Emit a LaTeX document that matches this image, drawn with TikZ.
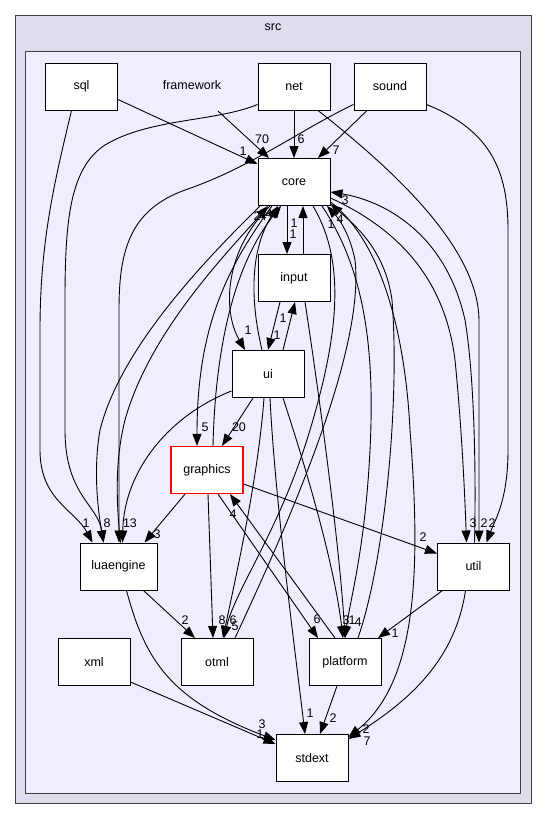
\documentclass[tikz,border=0pt]{standalone}
\usepackage{fontspec}
\setmainfont{Liberation Sans}
\usepackage{xcolor}
\usetikzlibrary{arrows.meta}
\definecolor{outerfill}{HTML}{DDDDEE}
\definecolor{innerfill}{HTML}{EEEEFF}
\definecolor{framecol}{HTML}{404040}
\tikzset{
  dirbox/.style={draw=black, fill=white, line width=1pt, rectangle, minimum width=72pt, minimum height=47pt, inner sep=0pt, font=\fontsize{12.5}{15}\selectfont},
  dep/.style={draw=black, line width=0.9pt, -{Triangle[length=12pt,width=9pt]}},
  deplabel/.style={inner sep=0pt, font=\fontsize{12.5}{15}\selectfont}
}

\begin{document}
\begin{tikzpicture}[x=1pt,y=-1pt]
\useasboundingbox (0,0) rectangle (547,820);
\fill[white] (0,0) rectangle (547,820);
% clusters
\draw[framecol, fill=outerfill, line width=1pt] (15,15) rectangle (531,803);
\draw[framecol, fill=innerfill, line width=1pt] (25,51) rectangle (520,793);
\node[deplabel] (src) at (273,27) {src};
\node[deplabel] (framework) at (192,85) {framework};
\coordinate (fw) at (218,111);

% directories
\node[dirbox] (sql) at (81.5,86.5) {sql};
\node[dirbox] (net) at (294,86.5) {net};
\node[dirbox] (sound) at (390,86.5) {sound};
\node[dirbox] (core) at (294,182) {core};
\node[dirbox] (input) at (294,278) {input};
\node[dirbox] (ui) at (268,374) {ui};
\node[dirbox, draw=red, line width=1.2pt] (graphics) at (207,470) {graphics};
\node[dirbox, minimum width=77pt] (luaengine) at (118.5,566.5) {luaengine};
\node[dirbox] (util) at (473.5,566.5) {util};
\node[dirbox] (xml) at (94,662) {xml};
\node[dirbox] (otml) at (217,662) {otml};
\node[dirbox] (platform) at (345,662) {platform};
\node[dirbox] (stdext) at (312,758) {stdext};

% into core from above
\draw[dep] ([yshift=-13pt]sql.east) -- ([yshift=18pt]core.west) node[deplabel] at (243,151) {1};
\draw[dep] (fw) -- ([xshift=-25pt]core.north) node[deplabel] at (262,139) {70};
\draw[dep] (net.south) -- (core.north) node[deplabel] at (301,139) {6};
\draw[dep] ([xshift=-23pt]sound.south) -- ([xshift=24pt]core.north) node[deplabel] at (336,150) {7};

% into luaengine
\draw[dep] ([xshift=-10pt]sql.south) .. controls (55,180) and (40,240) .. (40,330) -- (40,450) .. controls (40,500) and (75,510) .. ([xshift=-26pt]luaengine.north) node[deplabel] at (86,523) {1};
\draw[dep] ([yshift=-18pt]net.west) .. controls (215,122) and (150,118) .. (105,145) .. controls (70,168) and (65,220) .. (65,300) -- (65,430) .. controls (65,495) and (98,505) .. ([xshift=-15pt]luaengine.north) node[deplabel] at (107,523) {8};
\draw[dep] ([yshift=-18pt]sound.west) .. controls (300,130) and (250,168) .. (185,190) .. controls (130,210) and (119,250) .. (119,310) -- ([xshift=0.5pt]luaengine.north) node[deplabel] at (130,523) {13};
\draw[dep] ([yshift=-17pt]ui.west) .. controls (170,415) and (124,470) .. ([xshift=4pt]luaengine.north);
\draw[dep] ([xshift=-34pt]core.south) .. controls (200,265) and (120,350) .. (100,430) .. controls (93,470) and (98,510) .. ([xshift=-15pt]luaengine.north);
\draw[dep] ([xshift=-22pt]graphics.south) -- ([xshift=26pt]luaengine.north) node[deplabel] at (157,534) {3};

% into core from below
\draw[dep] ([xshift=2pt]luaengine.north) .. controls (116,500) and (115,460) .. (125,420) .. controls (150,330) and (230,250) .. ([xshift=-26pt]core.south);
\draw[dep] ([xshift=-6pt]ui.north) .. controls (250,300) and (250,250) .. ([xshift=-16pt]core.south);
\draw[dep] ([xshift=6pt]graphics.north) .. controls (215,360) and (230,270) .. ([xshift=-13pt]core.south);
\draw[dep] ([xshift=9pt]input.north) -- ([xshift=9pt]core.south) node[deplabel] at (294,223) {1};
\draw[dep] ([xshift=18pt]otml.north) .. controls (290,520) and (365,350) .. (355,260) .. controls (350,235) and (340,220) .. ([xshift=33pt]core.south) node[deplabel] at (331,224) {1};
\draw[dep] ([xshift=13pt]platform.north) .. controls (385,560) and (400,400) .. (392,300) .. controls (385,250) and (355,225) .. ([yshift=-22pt]core.east) node[deplabel] at (340,219) {4};
\draw[dep] ([xshift=1pt]util.north) .. controls (476,480) and (475,380) .. (465,320) .. controls (445,230) and (380,200) .. ([yshift=-10pt]core.east) node[deplabel] at (345,200) {3};
\node[deplabel] (lbl-a) at (257,216) {2};
\node[deplabel] (lbl-b) at (263,216) {4};
\node[deplabel] (lbl-c) at (269,214) {4};

% out of core downwards
\draw[dep] ([xshift=-7pt]core.south) -- ([xshift=-7pt]input.north) node[deplabel] at (293,234) {1};
\draw[dep] ([xshift=-24pt]core.south) .. controls (225,250) and (222,310) .. ([xshift=-23pt]ui.north) node[deplabel] at (248,330) {1};
\draw[dep] ([xshift=-22pt]core.south) .. controls (225,270) and (197,330) .. ([xshift=-10pt]graphics.north) node[deplabel] at (205,427) {5};
\draw[dep] ([xshift=19pt]core.south) .. controls (345,260) and (340,330) .. (310,430) .. controls (280,530) and (235,590) .. ([xshift=7pt]otml.north) node[deplabel] at (235,626) {5};
\draw[dep] ([xshift=28pt]core.south) .. controls (365,270) and (375,350) .. (370,450) .. controls (365,550) and (350,600) .. (platform.north) node[deplabel] at (358,622) {4};
\draw[dep] ([yshift=-20pt]core.east) .. controls (380,240) and (405,330) .. (410,430) .. controls (420,560) and (420,680) .. ([yshift=21pt]stdext.east) node[deplabel] at (366,729) {2};
\draw[dep] ([yshift=-16pt]core.east) .. controls (400,230) and (445,280) .. (455,360) .. controls (462,430) and (465,500) .. ([xshift=-7pt]util.north) node[deplabel] at (473,523) {3};

% into util from above
\draw[dep] ([xshift=24pt]net.south) .. controls (400,175) and (478,250) .. (479,320) -- ([xshift=5.5pt]util.north) node[deplabel] at (484,523) {2};
\draw[dep] ([yshift=-18pt]sound.east) .. controls (490,130) and (508,170) .. (508,230) -- (508,450) .. controls (508,500) and (495,520) .. ([xshift=13pt]util.north) node[deplabel] at (492,523) {2};

% input and ui
\draw[dep] ([xshift=-14pt]input.south) -- (ui.north) node[deplabel] at (277,335) {1};
\draw[dep] ([xshift=15pt]ui.north) -- ([xshift=1pt]input.south) node[deplabel] at (283,318) {1};
\draw[dep] ([xshift=11pt]input.south) .. controls (320,400) and (340,550) .. (platform.north) node[deplabel] at (352,620) {1};
\draw[dep] ([xshift=-15pt]ui.south) -- ([xshift=15pt]graphics.north) node[deplabel] at (239,427) {20};
\draw[dep] ([xshift=-4pt]ui.south) .. controls (258,480) and (235,580) .. ([xshift=6pt]otml.north) node[deplabel] at (233,620) {6};
\draw[dep] ([xshift=2pt]ui.south) .. controls (275,500) and (295,650) .. ([xshift=-7pt]stdext.north) node[deplabel] at (310,713) {1};
\draw[dep] ([xshift=15pt]ui.south) .. controls (310,480) and (335,570) .. ([xshift=-2pt]platform.north) node[deplabel] at (346,620) {3};

% graphics
\draw[dep] ([xshift=1pt]graphics.south) -- ([xshift=-4pt]otml.north) node[deplabel] at (222,620) {8};
\draw[dep] ([yshift=-14pt]graphics.east) -- ([yshift=13pt]util.west) node[deplabel] at (423,537) {2};
\draw[dep] ([xshift=11pt]graphics.south) -- ([xshift=-27pt]platform.north) node[deplabel] at (317,619) {6};
\draw[dep] ([xshift=-10pt]platform.north) -- ([xshift=23pt]graphics.south) node[deplabel] at (233,514) {4};

% lower rows
\draw[dep] ([xshift=25pt]luaengine.south) -- ([xshift=-22pt]otml.north) node[deplabel] at (185,620) {2};
\draw[dep] ([xshift=8pt]luaengine.south) .. controls (145,660) and (170,700) .. ([yshift=18pt]stdext.west) node[deplabel] at (260,734) {1};
\draw[dep] ([yshift=-20pt]xml.east) -- ([yshift=14pt]stdext.west) node[deplabel] at (262,724) {3};
\draw[dep] ([xshift=-31pt]util.south) -- ([xshift=33pt]platform.north) node[deplabel] at (395,633) {1};
\draw[dep] ([xshift=-8pt]util.south) .. controls (455,660) and (410,700) .. ([yshift=19pt]stdext.east) node[deplabel] at (367,741) {7};
\draw[dep] ([xshift=-8pt]platform.south) -- ([xshift=8pt]stdext.north) node[deplabel] at (333,718) {2};
\end{tikzpicture}
\end{document}
